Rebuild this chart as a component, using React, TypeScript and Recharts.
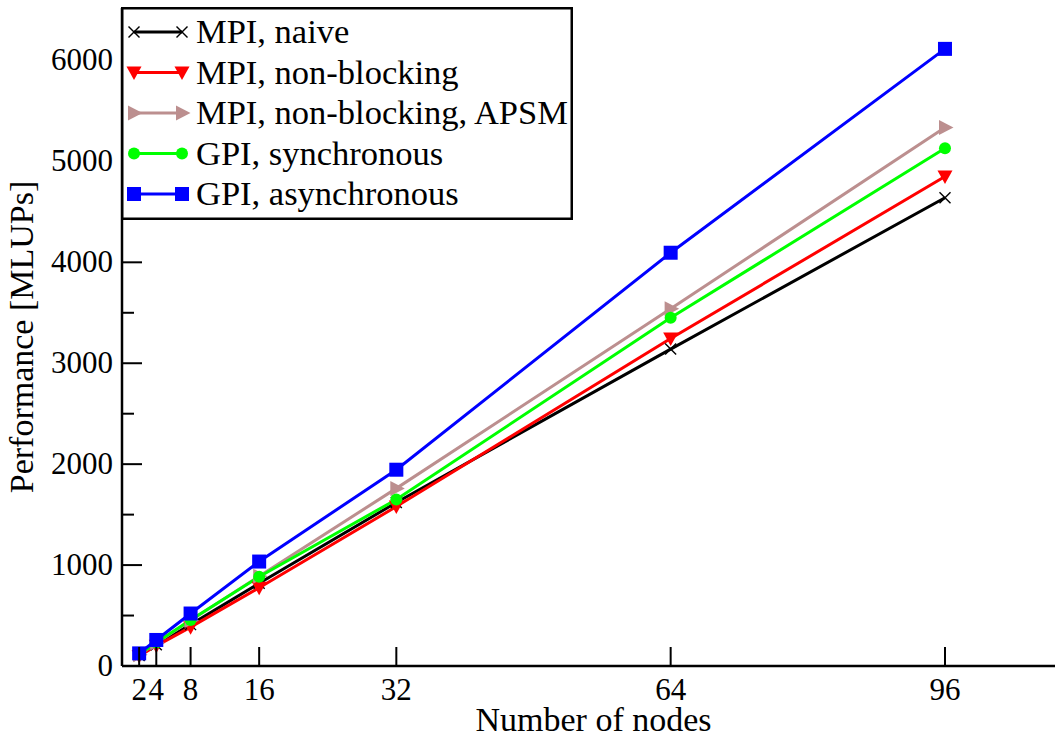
import React from 'react';
import { LineChart, Line, XAxis, YAxis, Legend } from 'recharts';

// ---- data ----
const nodes = [2, 4, 8, 16, 32, 64, 96];
const mpiNaive = [105, 210, 410, 820, 1620, 3140, 4640];
const mpiNonBlocking = [100, 200, 385, 775, 1580, 3245, 4850];
const mpiApsm = [112, 228, 450, 890, 1760, 3540, 5335];
const gpiSync = [115, 232, 455, 885, 1650, 3450, 5130];
const gpiAsync = [125, 258, 520, 1035, 1945, 4095, 6115];

const xTicks = [2, 4, 8, 16, 32, 64, 96];
const yTicks = [0, 500, 1000, 1500, 2000, 2500, 3000, 3500, 4000, 4500, 5000, 5500, 6000];
const yLabelTicks = [0, 1000, 2000, 3000, 4000, 5000, 6000];

const seriesKeys = ['naive', 'nonblocking', 'apsm', 'sync', 'async'];
const seriesNames = [
  'MPI, naive',
  'MPI, non-blocking',
  'MPI, non-blocking, APSM',
  'GPI, synchronous',
  'GPI, asynchronous',
];
const seriesColors = ['#000000', '#ff0000', '#bc8f8f', '#00ff00', '#0000ff'];
const seriesMarkers = ['x', 'triDown', 'triRight', 'circle', 'square'];
const seriesValues = [mpiNaive, mpiNonBlocking, mpiApsm, gpiSync, gpiAsync];

const data = nodes.map((n, i) => {
  const row: any = { nodes: n };
  seriesKeys.forEach((k, s) => {
    row[k] = seriesValues[s][i];
  });
  return row;
});

const FONT = "'Liberation Serif', 'Times New Roman', serif";

function Marker({ kind, cx, cy, color }: any) {
  if (cx == null || cy == null) return null;
  switch (kind) {
    case 'x':
      return (
        <g stroke={color} strokeWidth={1.4}>
          <line x1={cx - 5.5} y1={cy - 5.5} x2={cx + 5.5} y2={cy + 5.5} />
          <line x1={cx - 5.5} y1={cy + 5.5} x2={cx + 5.5} y2={cy - 5.5} />
        </g>
      );
    case 'triDown':
      return (
        <polygon
          points={`${cx - 7.5},${cy - 6} ${cx + 7.5},${cy - 6} ${cx},${cy + 7.5}`}
          fill={color}
        />
      );
    case 'triRight':
      return (
        <polygon
          points={`${cx - 6},${cy - 7.5} ${cx - 6},${cy + 7.5} ${cx + 8.5},${cy}`}
          fill={color}
        />
      );
    case 'circle':
      return <circle cx={cx} cy={cy} r={6} fill={color} />;
    case 'square':
      return <rect x={cx - 7} y={cy - 7} width={14} height={14} fill={color} />;
    default:
      return null;
  }
}

function makeDot(kind: string, color: string) {
  return (props: any) => (
    <Marker key={`${kind}-${props.index}`} kind={kind} cx={props.cx} cy={props.cy} color={color} />
  );
}

function BottomTick(props: any) {
  const { x, y, payload } = props;
  return (
    <g>
      <line x1={x} x2={x} y1={y} y2={y - 19} stroke="#000" strokeWidth={2} />
      <text x={x} y={y + 34} textAnchor="middle" fontFamily={FONT} fontSize={31} fill="#000">
        {payload.value}
      </text>
    </g>
  );
}

function TopTick(props: any) {
  const { x, y } = props;
  return <line x1={x} x2={x} y1={y} y2={y + 19} stroke="#000" strokeWidth={2} />;
}

function LeftTick(props: any) {
  const { x, y, payload } = props;
  const major = yLabelTicks.includes(payload.value);
  return (
    <g>
      <line x1={x} x2={x + (major ? 20 : 12)} y1={y} y2={y} stroke="#000" strokeWidth={2} />
      {major && (
        <text x={x - 9} y={y} dy={10} textAnchor="end" fontFamily={FONT} fontSize={31} fill="#000">
          {payload.value}
        </text>
      )}
    </g>
  );
}

function RightTick(props: any) {
  const { x, y, payload } = props;
  const major = yLabelTicks.includes(payload.value);
  return <line x1={x} x2={x - (major ? 20 : 11)} y1={y} y2={y} stroke="#000" strokeWidth={2} />;
}

function YLabel(props: any) {
  const vb = props.viewBox || {};
  const cy = vb.height ? vb.y + vb.height / 2 : 337;
  const cx = 33;
  return (
    <text
      x={cx}
      y={cy}
      transform={`rotate(-90 ${cx} ${cy})`}
      textAnchor="middle"
      fontFamily={FONT}
      fontSize={34}
      fill="#000"
    >
      Performance [MLUPs]
    </text>
  );
}

function LegendBox() {
  const w = 452;
  const h = 213;
  const rowY = [25, 65.5, 106, 146.5, 187];
  return (
    <svg width={w} height={h} style={{ display: 'block' }}>
      <rect x={1.25} y={1.25} width={w - 2.5} height={h - 2.5} fill="#fff" stroke="#000" strokeWidth={2.5} />
      {seriesNames.map((name, i) => (
        <g key={name}>
          <line x1={13} x2={61} y1={rowY[i]} y2={rowY[i]} stroke={seriesColors[i]} strokeWidth={3} />
          <Marker kind={seriesMarkers[i]} cx={13} cy={rowY[i]} color={seriesColors[i]} />
          <Marker kind={seriesMarkers[i]} cx={61} cy={rowY[i]} color={seriesColors[i]} />
          <text x={75} y={rowY[i] + 11} fontFamily={FONT} fontSize={34.5} fill="#000">
            {name}
          </text>
        </g>
      ))}
    </svg>
  );
}

export default function App() {
  const axisLine = { stroke: '#000', strokeWidth: 2.5 };
  return (
    <div
      style={{
        position: 'fixed',
        left: 0,
        top: 0,
        width: 1055,
        height: 736,
        overflow: 'hidden',
        background: '#fff',
      }}
    >
      <LineChart width={1080} height={736} data={data} margin={{ top: 8, right: 15, bottom: 0, left: 0 }}>
        <XAxis
          dataKey="nodes"
          type="number"
          domain={[0, 110]}
          allowDataOverflow
          ticks={xTicks}
          interval={0}
          tickSize={0}
          tickMargin={0}
          tickLine={false}
          tick={<BottomTick />}
          axisLine={axisLine}
          height={70}
          label={{
            value: 'Number of nodes',
            position: 'insideBottom',
            offset: 5,
            fontFamily: FONT,
            fontSize: 34,
            fill: '#000',
          }}
        />
        <XAxis
          xAxisId="top"
          orientation="top"
          dataKey="nodes"
          type="number"
          domain={[0, 110]}
          allowDataOverflow
          ticks={xTicks}
          interval={0}
          tickSize={0}
          tickMargin={0}
          tickLine={false}
          tick={<TopTick />}
          axisLine={axisLine}
          height={0}
        />
        <YAxis
          type="number"
          domain={[0, 6520]}
          allowDataOverflow
          ticks={yTicks}
          interval={0}
          tickSize={0}
          tickMargin={0}
          tickLine={false}
          tick={<LeftTick />}
          axisLine={axisLine}
          width={122}
          label={<YLabel />}
        />
        <YAxis
          yAxisId="right"
          orientation="right"
          type="number"
          domain={[0, 6520]}
          allowDataOverflow
          ticks={yTicks}
          interval={0}
          tickSize={0}
          tickMargin={0}
          tickLine={false}
          tick={<RightTick />}
          axisLine={axisLine}
          width={0}
        />
        {seriesKeys.map((k, i) => (
          <Line
            key={k}
            dataKey={k}
            name={seriesNames[i]}
            stroke={seriesColors[i]}
            strokeWidth={3}
            dot={makeDot(seriesMarkers[i], seriesColors[i])}
            activeDot={false}
            isAnimationActive={false}
          />
        ))}
        <Legend
          layout="vertical"
          align="center"
          verticalAlign="middle"
          content={() => <LegendBox />}
          wrapperStyle={{ position: 'absolute', left: 121, top: 7, width: 452, height: 213 }}
        />
      </LineChart>
    </div>
  );
}
